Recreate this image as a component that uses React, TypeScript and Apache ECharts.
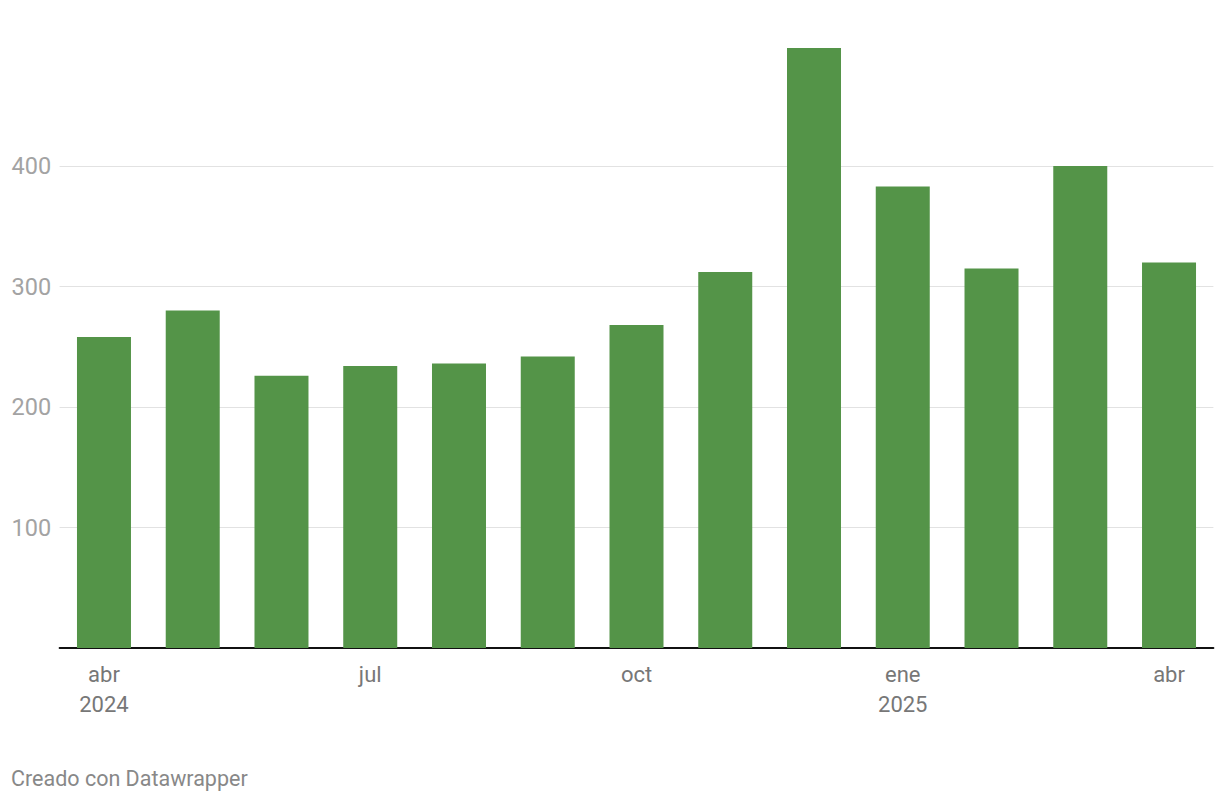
import React, { useEffect, useRef } from "react";
import * as echarts from "echarts";

const months = ["2024-04", "2024-05", "2024-06", "2024-07", "2024-08", "2024-09", "2024-10", "2024-11", "2024-12", "2025-01", "2025-02", "2025-03", "2025-04"];
const monthLabels = ["abr\n2024", "", "", "jul", "", "", "oct", "", "", "ene\n2025", "", "", "abr"];
const values = [258, 280, 226, 234, 236, 242, 268, 312, 498, 383, 315, 400, 320];
const gridValues = [100, 200, 300, 400];
const yTickLabels = ["100", "200", "300", "400"];

export default function App() {
  const ref = useRef<HTMLDivElement>(null);
  useEffect(() => {
    document.body.style.margin = "0";
    const chart = echarts.init(ref.current!, null, { renderer: "svg" });
    chart.setOption({
      animation: false,
      textStyle: { fontFamily: "Roboto" },
      grid: { left: 59.6, right: 6.6, top: 45.5, bottom: 152, containLabel: false },
      xAxis: {
        type: "category",
        data: months,
        axisLine: { show: true, lineStyle: { color: "#111", width: 2 } },
        axisTick: { show: false },
        axisLabel: {
          interval: 0,
          margin: 11,
          fontSize: 22,
          lineHeight: 30,
          color: "#777",
          fontFamily: "Roboto",
          formatter: (_v: string, i: number) => monthLabels[i],
        },
      },
      yAxis: {
        type: "value",
        min: 0,
        max: 500,
        interval: 100,
        splitLine: { show: false },
        axisLine: { show: false },
        axisTick: { show: false },
        axisLabel: {
          align: "left",
          margin: 48,
          fontSize: 23.5,
          color: "#a3a3a3",
          fontFamily: "Roboto",
          formatter: (v: number) => {
            const idx = gridValues.indexOf(v);
            return idx >= 0 ? yTickLabels[idx] : "";
          },
        },
      },
      series: [
        {
          type: "bar",
          data: values,
          barWidth: 54,
          itemStyle: { color: "#549448" },
          z: 3,
          markLine: {
            silent: true,
            symbol: "none",
            label: { show: false },
            lineStyle: { color: "#e2e2e2", width: 1, type: "solid" },
            data: gridValues.map((v) => ({ yAxis: v })),
            z: 1,
          },
        },
      ],
      graphic: [
        {
          type: "text",
          x: 11,
          y: 778,
          style: {
            text: "Creado con Datawrapper",
            fontSize: 21.5,
            fill: "#888",
            fontFamily: "Roboto",
            verticalAlign: "middle",
          },
        },
      ],
    });
    return () => chart.dispose();
  }, []);
  return <div ref={ref} style={{ width: 1220, height: 800 }} />;
}
